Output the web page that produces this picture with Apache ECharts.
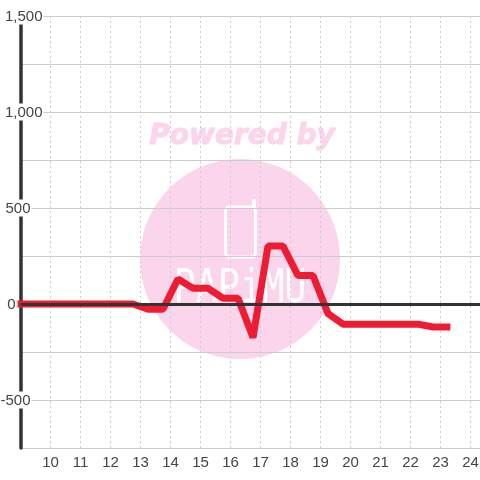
<!DOCTYPE html>
<html>
<head>
<meta charset="utf-8">
<style>html,body{margin:0;padding:0;background:#fff}#main{width:480px;height:480px}</style>
<script src="https://cdn.jsdelivr.net/npm/echarts@6/dist/echarts.min.js"></script>
</head>
<body>
<div id="main"></div>
<script>
const hours = [8.9, 9.25, 12.75, 13.25, 13.75, 14.25, 14.75, 15.25, 15.75, 16.25, 16.75, 17.25, 17.75, 18.25, 18.75, 19.25, 19.75, 20.25, 21.25, 22.25, 22.75, 23.33];
const values = [0, 0, 0, -27, -27, 130, 82, 82, 30, 30, -175, 302, 302, 148, 148, -50, -105, -105, -105, -105, -120, -120];
const yLabels = { 1500: '1,500', 1000: '1,000', 500: '500', 0: '0', '-500': '-500' };
const labelShift = { 1500: 0, 1000: 0, 500: 12, 0: 27, '-500': 12 };

const chart = echarts.init(document.getElementById('main'), null, { renderer: 'canvas' });

const pink = '#fbd5ec';

chart.setOption({
  animation: false,
  backgroundColor: '#fff',
  grid: { left: 20.5, right: 0, top: 16, bottom: 32, outerBoundsMode: 'none' },
  xAxis: {
    type: 'value',
    min: 9,
    max: 24.317,
    interval: 1,
    axisLine: { show: false },
    axisTick: { show: false },
    axisLabel: {
      color: '#444',
      fontFamily: 'Liberation Sans',
      fontSize: 15,
      margin: 7,
      showMaxLabel: false,
      formatter: v => (v >= 10 && Number.isInteger(v) ? String(v) : '')
    },
    splitLine: { show: true, lineStyle: { color: '#ccc', width: 1, type: [2, 3] } }
  },
  yAxis: {
    type: 'value',
    min: -750,
    max: 1500,
    interval: 250,
    axisLine: { show: true, onZero: false, lineStyle: { color: '#333', width: 3.5 } },
    axisTick: { show: false },
    axisLabel: {
      margin: -23,
      formatter: v => {
        if (!yLabels[v]) return '';
        return '{t|' + yLabels[v] + '}{s' + labelShift[v] + '|}';
      },
      rich: {
        t: { color: '#444', fontFamily: 'Liberation Sans', fontSize: 15, backgroundColor: '#fff', lineHeight: 16, padding: [2, 1, 0, 0] },
        s0: { width: 0 },
        s12: { width: 12 },
        s27: { width: 27 }
      }
    },
    splitLine: { show: true, lineStyle: { color: '#ccc', width: 1 } }
  },
  graphic: [
    { type: 'circle', z: -10, silent: true, shape: { cx: 240, cy: 259, r: 100 }, style: { fill: pink } },
    { type: 'text', z: -10, silent: true, x: 242, y: 137, style: { text: 'Powered by', fill: pink, stroke: pink, lineWidth: 1, font: 'italic bold 28px "DejaVu Sans"', align: 'center', verticalAlign: 'middle' } },
    { type: 'rect', z: -9, silent: true, shape: { x: 225.5, y: 207, width: 30, height: 50, r: 4 }, style: { fill: 'none', stroke: '#fff', lineWidth: 3 } },
    { type: 'line', z: -9, silent: true, shape: { x1: 254, y1: 207, x2: 254, y2: 201 }, style: { stroke: '#fff', lineWidth: 4, lineCap: 'round' } },
    { type: 'text', z: -9, silent: true, x: 240, y: 290, scaleX: 0.8, style: { text: 'PAPiMU', fill: '#fff', font: '46px "DejaVu Sans Mono"', align: 'center', verticalAlign: 'middle' } }
  ],
  series: [
    {
      type: 'line',
      z: 3,
      data: [],
      markLine: {
        silent: true,
        symbol: 'none',
        label: { show: false },
        lineStyle: { color: '#333', type: 'solid', width: 3 },
        data: [{ yAxis: 0 }]
      }
    },
    {
      type: 'line',
      z: 4,
      clip: false,
      symbol: 'none',
      lineStyle: { color: '#ee1c33', width: 7, cap: 'butt', join: 'bevel' },
      data: hours.map((h, i) => [h, values[i]])
    }
  ]
});
</script>
</body>
</html>
